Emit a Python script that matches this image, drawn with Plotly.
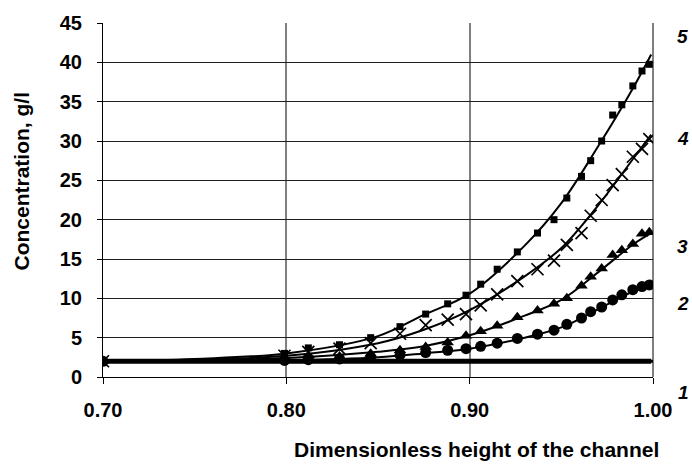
import plotly.graph_objects as go

# Measurement positions (dimensionless channel height) shared by all profiles
x_points = [0.700, 0.799, 0.812, 0.829, 0.846, 0.862, 0.876, 0.888, 0.898, 0.906, 0.915,
            0.926, 0.937, 0.946, 0.953, 0.961, 0.966, 0.972, 0.978, 0.983, 0.989, 0.994, 0.998]

# Measured concentrations, g/l
conc_1 = [2.0] * len(x_points)
conc_2 = [2.0, 2.1, 2.2, 2.3, 2.5, 2.8, 3.1, 3.4, 3.6, 3.9, 4.3,
          4.9, 5.45, 5.95, 6.7, 7.5, 8.3, 8.9, 9.8, 10.45, 11.1, 11.5, 11.7]
conc_3 = [2.0, 2.45, 2.5, 2.6, 2.95, 3.4, 3.8, 4.4, 5.25, 5.8, 6.5,
          7.6, 8.45, 9.3, 10.0, 11.6, 12.75, 13.8, 15.5, 16.1, 16.9, 18.2, 18.4]
conc_4 = [2.0, 2.7, 3.2, 3.6, 4.3, 5.5, 6.6, 7.3, 8.0, 9.1, 10.5,
          12.2, 13.7, 14.8, 16.8, 18.3, 20.5, 22.5, 24.4, 25.8, 28.0, 29.0, 30.25]
conc_5 = [2.0, 3.0, 3.7, 4.1, 5.0, 6.4, 8.0, 9.3, 10.4, 11.8, 13.7,
          15.9, 18.3, 20.0, 22.75, 25.5, 27.5, 30.0, 33.3, 34.6, 37.0, 38.9, 39.75]

# Smoothed (fitted) profiles
x_fit = [0.70, 0.75, 0.80, 0.85, 0.875, 0.90, 0.93, 0.95, 0.97, 0.99, 0.999]
fit_1 = [2.0, 2.0, 2.0, 2.0, 2.0, 2.0, 2.0, 2.0, 2.0, 2.0, 2.0]
fit_2 = [2.0, 2.0, 2.1, 2.5, 3.0, 3.6, 5.0, 6.3, 8.6, 11.0, 11.8]
fit_3 = [2.0, 2.1, 2.4, 3.2, 3.9, 5.3, 7.8, 9.8, 13.3, 17.0, 18.3]
fit_4 = [2.0, 2.2, 2.7, 4.3, 6.0, 8.5, 12.8, 16.4, 21.8, 28.0, 30.8]
fit_5 = [2.0, 2.3, 3.0, 5.2, 7.9, 10.6, 16.7, 22.1, 29.3, 37.1, 41.0]

# Curve numbers placed to the right of the plotting area
curve_labels = ["1", "2", "3", "4", "5"]
label_pos = [(1.056, -0.045), (1.054, 0.208), (1.054, 0.368), (1.054, 0.673), (1.054, 0.961)]

FONT = "Arial, 'Liberation Sans', sans-serif"

fig = go.Figure()

fits = [fit_1, fit_2, fit_3, fit_4, fit_5]
widths = [5, 2, 2, 2, 2]
for f, w in zip(fits, widths):
    fig.add_trace(go.Scatter(x=x_fit, y=f, mode="lines", line=dict(color="black", width=w, shape="spline"),
                             showlegend=False, hoverinfo="skip"))

marker_specs = [
    (conc_1, dict(symbol="line-ew-open", size=9, color="black", line=dict(color="black", width=3))),
    (conc_2, dict(symbol="circle", size=11, color="black")),
    (conc_3, dict(symbol="triangle-up", size=11, color="black")),
    (conc_4, dict(symbol="x-thin-open", size=12, color="black", line=dict(color="black", width=1.7))),
    (conc_5, dict(symbol="square", size=7, color="black")),
]
for vals, mk in marker_specs:
    fig.add_trace(go.Scatter(x=x_points, y=vals, mode="markers", marker=mk, showlegend=False))

for lab, (px, py) in zip(curve_labels, label_pos):
    fig.add_annotation(x=px, y=py, xref="paper", yref="paper", text="<b><i>%s</i></b>" % lab,
                       xanchor="center", yanchor="middle",
                       showarrow=False, font=dict(family=FONT, size=19, color="black"))

fig.add_annotation(x=-0.148, y=0.554, xref="paper", yref="paper", text="<b>Concentration, g/l</b>",
                   textangle=-90, xanchor="center", yanchor="middle",
                   showarrow=False, font=dict(family=FONT, size=21, color="black"))
fig.add_annotation(x=0.679, y=-0.205, xref="paper", yref="paper",
                   text="<b>Dimensionless height of the channel</b>",
                   xanchor="center", yanchor="middle",
                   showarrow=False, font=dict(family=FONT, size=21, color="black"))

fig.update_layout(
    width=692, height=468,
    margin=dict(l=103, r=39, t=16, b=91),
    paper_bgcolor="white", plot_bgcolor="white",
    font=dict(family=FONT, color="black"),
    xaxis=dict(range=[0.70, 1.00], tickvals=[0.70, 0.80, 0.90, 1.00], tickformat=".2f",
               showgrid=True, gridcolor="#808080", gridwidth=1.5,
               showline=True, linecolor="black", linewidth=1, mirror=False,
               ticks="outside", ticklen=6, tickcolor="black",
               tickfont=dict(family=FONT, size=20, weight="bold"), ticklabelstandoff=9,
               zeroline=False, fixedrange=True),
    yaxis=dict(range=[0, 45], tickvals=list(range(0, 50, 5)),
               showgrid=True, gridcolor="#202020", gridwidth=1,
               showline=True, linecolor="black", linewidth=1,
               ticks="outside", ticklen=5, tickcolor="black",
               tickfont=dict(family=FONT, size=20, weight="bold"), ticklabelstandoff=11,
               zeroline=False, fixedrange=True),
)

# Right border of the plotting area
fig.add_shape(type="line", xref="paper", yref="paper", x0=1, x1=1, y0=0, y1=1,
              line=dict(color="black", width=1))

fig.write_html("out.html")
